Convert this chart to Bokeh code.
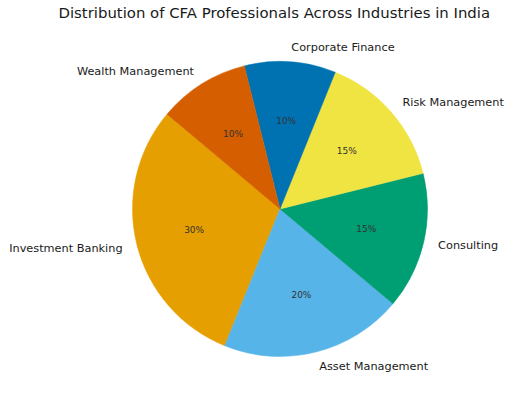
import numpy as np
from bokeh.plotting import figure
from bokeh.models import ColumnDataSource, Range1d
from bokeh.core.properties import value
from bokeh.embed import file_html
from bokeh.resources import INLINE

# ---- data ----
industries = ["Investment Banking", "Asset Management", "Consulting",
              "Risk Management", "Corporate Finance", "Wealth Management"]
shares = [30, 20, 15, 15, 10, 10]
colors = ["#E69F00", "#56B4E9", "#009E73", "#F0E442", "#0072B2", "#D55E00"]
title_text = "Distribution of CFA Professionals Across Industries in India"
start_deg = 140

# ---- geometry (pixels per data unit) ----
R_PX = 147.5
FRAME_W = 508
TITLE_H = 26          # measured height of the title panel
FRAME_H = 393 - TITLE_H
CX, CY = 279.5, 208.5  # pie centre in page pixels

vals = np.array(shares, dtype=float)
fracs = vals / vals.sum()
starts = np.deg2rad(start_deg + 360 * np.concatenate([[0], np.cumsum(fracs)[:-1]]))
ends = np.deg2rad(start_deg + 360 * np.cumsum(fracs))
mids = (starts + ends) / 2

x_start = -CX / R_PX
x_end = (FRAME_W - CX) / R_PX
y_end = (CY - TITLE_H) / R_PX
y_start = y_end - FRAME_H / R_PX

p = figure(frame_width=FRAME_W, frame_height=FRAME_H, output_backend="svg",
           toolbar_location=None,
           x_range=Range1d(x_start, x_end), y_range=Range1d(y_start, y_end),
           min_border=0, title=title_text)
p.title.text_font = "DejaVu Sans"
p.title.text_font_size = "14.9px"
p.title.text_font_style = "normal"
p.title.text_color = "#1a1a1a"
p.title.align = "left"
p.title.offset = 58
p.title.vertical_align = "top"
p.title.standoff = 6
p.axis.visible = False
p.grid.visible = False
p.outline_line_color = None
p.background_fill_color = "white"
p.border_fill_color = "white"

wsrc = ColumnDataSource(dict(start=starts, end=ends, color=colors, name=industries))
p.wedge(x=0, y=0, radius=1, start_angle="start", end_angle="end",
        direction="anticlock", fill_color="color", line_color="color",
        line_width=0.5, source=wsrc)

lx = 1.1 * np.cos(mids)
ly = 1.1 * np.sin(mids)
align = ["right" if x < 0 else "left" for x in lx]
lsrc = ColumnDataSource(dict(x=lx, y=ly, text=industries, align=align))
p.text(x="x", y="y", text="text", text_align="align", text_baseline="middle",
       text_font=value("DejaVu Sans"), text_font_size="11.3px",
       text_color="#1a1a1a", source=lsrc)

px = 0.6 * np.cos(mids)
py = 0.6 * np.sin(mids)
pct = [f"{v:.0f}%" for v in fracs * 100]
psrc = ColumnDataSource(dict(x=px, y=py, text=pct))
p.text(x="x", y="y", text="text", text_align="center", text_baseline="middle",
       text_font=value("DejaVu Sans"), text_font_size="9px",
       text_color="#333333", source=psrc)

open("out.html", "w").write(file_html(p, INLINE))
